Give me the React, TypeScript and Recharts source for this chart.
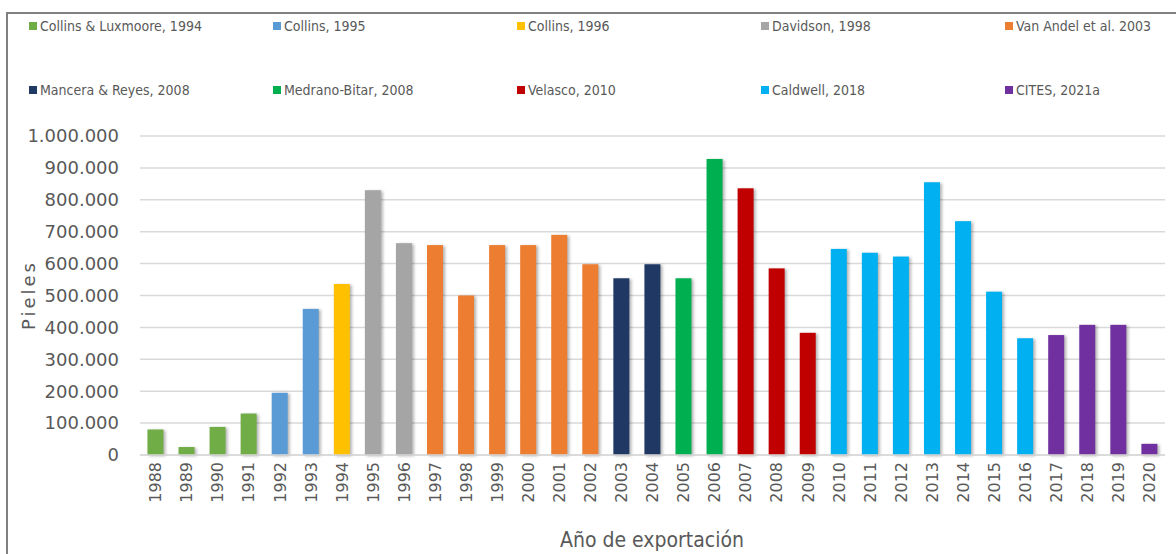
import { BarChart, Bar, Cell, XAxis, YAxis, CartesianGrid } from 'recharts';

// Export years and skins exported per year
const YEARS = [
  '1988', '1989', '1990', '1991', '1992', '1993', '1994', '1995', '1996', '1997', '1998',
  '1999', '2000', '2001', '2002', '2003', '2004', '2005', '2006', '2007', '2008', '2009',
  '2010', '2011', '2012', '2013', '2014', '2015', '2016', '2017', '2018', '2019', '2020',
];
const SKINS = [
  80000, 25000, 88000, 130000, 195000, 458000, 536000, 830000, 664000, 658000, 500000,
  658000, 658000, 690000, 598000, 554000, 598000, 554000, 928000, 836000, 585000, 383000,
  646000, 634000, 622000, 855000, 733000, 512000, 366000, 376000, 408000, 408000, 35000,
];
// index into SOURCES for every year
const SOURCE_OF_YEAR = [
  0, 0, 0, 0, 1, 1, 2, 3, 3, 4, 4,
  4, 4, 4, 4, 5, 5, 6, 6, 7, 7, 7,
  8, 8, 8, 8, 8, 8, 8, 9, 9, 9, 9,
];
const SOURCES = [
  'Collins & Luxmoore, 1994', 'Collins, 1995', 'Collins, 1996', 'Davidson, 1998', 'Van Andel et al. 2003',
  'Mancera & Reyes, 2008', 'Medrano-Bitar, 2008', 'Velasco, 2010', 'Caldwell, 2018', 'CITES, 2021a',
];
const SOURCE_COLORS = [
  '#70ad47', '#5b9bd5', '#ffc000', '#a5a5a5', '#ed7d31',
  '#203864', '#00b050', '#c00000', '#00b0f0', '#7030a0',
];
const Y_TICKS = [0, 100000, 200000, 300000, 400000, 500000, 600000, 700000, 800000, 900000, 1000000];

const data = YEARS.map((year, i) => ({ year, skins: SKINS[i], source: SOURCE_OF_YEAR[i] }));

const NARROW = '"Liberation Sans Narrow", "DejaVu Sans Condensed", "Liberation Sans", sans-serif';
const TEXT = '#595959';

const fmt = (v: number) => v.toLocaleString('de-DE');

const YearTick = ({ x, y, payload }: any) => (
  <text
    x={x}
    y={y}
    transform={`rotate(-90, ${x}, ${y})`}
    textAnchor="end"
    dy="0.36em"
    fill={TEXT}
    fontSize={16}
    fontFamily="DejaVu Sans"
  >
    {payload.value}
  </text>
);

const ShadowBar = (props: any) => {
  const { x, y, width, height, fill } = props;
  return (
    <rect
      x={x}
      y={y}
      width={width}
      height={height}
      fill={fill}
      style={{ filter: 'drop-shadow(2px 1px 1.5px rgba(0,0,0,0.3))' }}
    />
  );
};

export default function App() {
  return (
    <div
      style={{
        position: 'fixed',
        left: 0,
        top: 0,
        width: 1176,
        height: 554,
        overflow: 'hidden',
        background: '#fff',
      }}
    >
      <div
        style={{
          position: 'absolute',
          left: 6,
          top: 12,
          width: 1200,
          height: 600,
          border: '2px solid #808080',
        }}
      />

      {/* legend: two rows of five sources */}
      {SOURCES.map((name, i) => (
        <div
          key={name}
          style={{
            position: 'absolute',
            left: 29 + (i % 5) * 244,
            top: i < 5 ? 18 : 82,
            width: 240,
            display: 'flex',
            alignItems: 'center',
            fontFamily: NARROW,
            fontSize: 14,
            color: TEXT,
            whiteSpace: 'nowrap',
          }}
        >
          <span
            style={{
              flex: '0 0 8px',
              width: 8,
              height: 8,
              background: SOURCE_COLORS[i],
              marginRight: 3,
            }}
          />
          <span>{name}</span>
        </div>
      ))}

      <div style={{ position: 'absolute', left: 0, top: 0 }}>
        <BarChart
          width={1176}
          height={554}
          data={data}
          margin={{ top: 136, right: 11, bottom: 0, left: 20 }}
          barCategoryGap="24%"
        >
          <CartesianGrid vertical={false} stroke="#d9d9d9" strokeWidth={1.5} />
          <XAxis
            dataKey="year"
            interval={0}
            height={99}
            axisLine={{ stroke: '#d9d9d9', strokeWidth: 1.5 }}
            tickLine={false}
            tickMargin={1}
            tick={<YearTick />}
          />
          <YAxis
            width={120}
            domain={[0, 1000000]}
            ticks={Y_TICKS}
            tickFormatter={fmt}
            axisLine={false}
            tickLine={false}
            tickMargin={15}
            tick={{ fill: TEXT, fontSize: 18, fontFamily: 'DejaVu Sans' }}
          />
          <Bar dataKey="skins" isAnimationActive={false} shape={<ShadowBar />}>
            {data.map((d) => (
              <Cell key={d.year} fill={SOURCE_COLORS[d.source]} />
            ))}
          </Bar>
        </BarChart>
      </div>

      <div
        style={{
          position: 'absolute',
          left: 28,
          top: 295,
          transform: 'translate(-50%, -50%) rotate(-90deg)',
          fontFamily: 'DejaVu Sans',
          fontSize: 18,
          letterSpacing: 3,
          color: TEXT,
          whiteSpace: 'nowrap',
        }}
      >
        Pieles
      </div>
      <div
        style={{
          position: 'absolute',
          left: 652,
          top: 540,
          transform: 'translate(-50%, -50%)',
          fontFamily: NARROW,
          fontSize: 21,
          color: TEXT,
          whiteSpace: 'nowrap',
        }}
      >
        Año de exportación
      </div>
    </div>
  );
}
